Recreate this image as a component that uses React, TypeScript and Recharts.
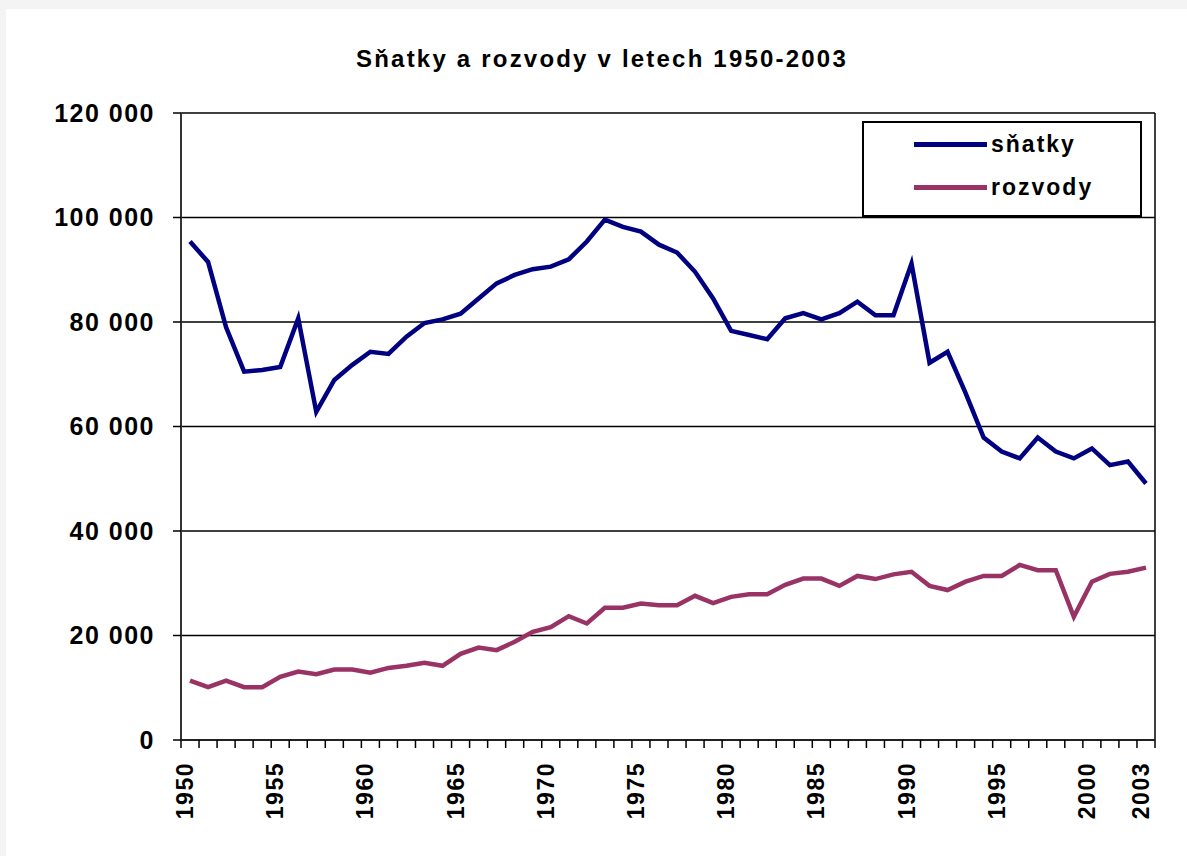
import React from 'react';
import { LineChart, Line, XAxis, YAxis, CartesianGrid, Legend } from 'recharts';

const YEARS = [
  '1950', '1951', '1952', '1953', '1954', '1955', '1956', '1957', '1958', '1959',
  '1960', '1961', '1962', '1963', '1964', '1965', '1966', '1967', '1968', '1969',
  '1970', '1971', '1972', '1973', '1974', '1975', '1976', '1977', '1978', '1979',
  '1980', '1981', '1982', '1983', '1984', '1985', '1986', '1987', '1988', '1989',
  '1990', '1991', '1992', '1993', '1994', '1995', '1996', '1997', '1998', '1999',
  '2000', '2001', '2002', '2003',
];

const SNATKY = [
  95400, 91500, 79000, 70500, 70800, 71400, 80700, 62800, 68900, 71800,
  74300, 73900, 77200, 79800, 80500, 81600, 84500, 87400, 89000, 90100,
  90600, 92000, 95400, 99600, 98200, 97300, 94800, 93300, 89600, 84500,
  78300, 77500, 76700, 80700, 81700, 80500, 81700, 83900, 81300, 81300,
  91200, 72200, 74300, 66400, 57900, 55200, 53900, 57900, 55200, 53900,
  55800, 52600, 53300, 49100,
];

const ROZVODY = [
  11350, 10100, 11350, 10100, 10100, 12100, 13100, 12600, 13500, 13500,
  12900, 13800, 14200, 14800, 14200, 16500, 17700, 17200, 18800, 20700,
  21600, 23700, 22300, 25300, 25300, 26100, 25800, 25800, 27600, 26200,
  27400, 27900, 27900, 29700, 30900, 30900, 29500, 31400, 30800, 31700,
  32200, 29500, 28700, 30300, 31400, 31400, 33500, 32500, 32500, 23600,
  30300, 31800, 32200, 33000,
];

const LABELED_YEARS = ['1950', '1955', '1960', '1965', '1970', '1975', '1980', '1985', '1990', '1995', '2000', '2003'];
const Y_TICKS = [0, 20000, 40000, 60000, 80000, 100000, 120000];

const data = YEARS.map((year, i) => ({ year, snatky: SNATKY[i], rozvody: ROZVODY[i] }));

const W = 1187;
const H = 856;
const LEFT = 181;
const RIGHT = 32;
const BAND = (W - LEFT - RIGHT) / YEARS.length;
const FONT = '"Liberation Sans", Arial, sans-serif';

const fmt = (v: number) => String(v).replace(/\B(?=(\d{3})+(?!\d))/g, ' ');

// tick marks sit on category boundaries like in Excel, labels only on some years
const YearTick = (props: any) => {
  const { x, y, payload, index } = props;
  const top = y - 22;
  const label = LABELED_YEARS.includes(payload.value);
  return (
    <g>
      <line x1={x - BAND / 2} x2={x - BAND / 2} y1={top} y2={top + 8} stroke="#000" strokeWidth={1.5} />
      {index === YEARS.length - 1 && (
        <line x1={x + BAND / 2} x2={x + BAND / 2} y1={top} y2={top + 8} stroke="#000" strokeWidth={1.5} />
      )}
      {label && (
        <text
          x={x}
          y={y}
          dy={3}
          transform={`rotate(-90, ${x}, ${y})`}
          textAnchor="end"
          fontFamily={FONT}
          fontWeight="bold"
          fontSize={23}
          letterSpacing={1.5}
          fill="#000"
        >
          {payload.value}
        </text>
      )}
    </g>
  );
};

const LegendBox = () => (
  <div style={{ width: 276, height: 92, border: '2px solid #000', background: '#fff', fontFamily: FONT, fontWeight: 'bold', fontSize: 23, letterSpacing: 2 }}>
    {[
      { name: 'sňatky', color: '#000080' },
      { name: 'rozvody', color: '#993366' },
    ].map((it, i) => (
      <div key={it.name} style={{ position: 'absolute', left: 52, top: i === 0 ? 8 : 51, display: 'flex', alignItems: 'center', height: 30 }}>
        <div style={{ width: 73, height: 5, background: it.color, marginRight: 4 }} />
        <span>{it.name}</span>
      </div>
    ))}
  </div>
);

export default function App() {
  return (
    <div style={{ position: 'absolute', left: 0, top: 0, width: W, height: H, background: '#f4f4f4' }}>
      <div style={{ position: 'absolute', left: 6, top: 9, right: 0, bottom: 0, background: '#fff' }} />
      <div style={{ position: 'absolute', left: 0, top: 45, width: 1204, textAlign: 'center', fontFamily: FONT, fontWeight: 'bold', fontSize: 24, letterSpacing: 2.2 }}>
        Sňatky a rozvody v letech 1950-2003
      </div>
      <div style={{ position: 'absolute', left: 0, top: 0 }}>
        <LineChart width={W} height={H} data={data} margin={{ top: 113, right: RIGHT, bottom: 16, left: 0 }}>
          <CartesianGrid
            stroke="#000"
            strokeWidth={1.5}
            vertical
            verticalCoordinatesGenerator={(p: any) => [p.offset.left + p.offset.width]}
          />
          <XAxis
            dataKey="year"
            scale="band"
            interval={0}
            height={100}
            tickSize={8}
            tickMargin={14}
            tickLine={false}
            axisLine={{ stroke: '#222', strokeWidth: 2 }}
            tick={<YearTick />}
          />
          <YAxis
            width={LEFT}
            domain={[0, 120000]}
            ticks={Y_TICKS}
            tickFormatter={fmt}
            tickSize={8}
            tickMargin={18}
            tickLine={{ stroke: '#000', strokeWidth: 1.5 }}
            axisLine={{ stroke: '#333', strokeWidth: 2 }}
            tick={{ fill: '#000', fontFamily: FONT, fontWeight: 'bold', fontSize: 25, letterSpacing: 1.5 }}
          />
          <Legend
            verticalAlign="middle"
            align="center"
            layout="horizontal"
            content={<LegendBox />}
            wrapperStyle={{ position: 'absolute', left: 862, top: 121, width: 280, height: 96 }}
          />
          <Line dataKey="snatky" name="sňatky" stroke="#000080" strokeWidth={4.5} dot={false} isAnimationActive={false} />
          <Line dataKey="rozvody" name="rozvody" stroke="#993366" strokeWidth={4.5} dot={false} isAnimationActive={false} />
        </LineChart>
      </div>
    </div>
  );
}
